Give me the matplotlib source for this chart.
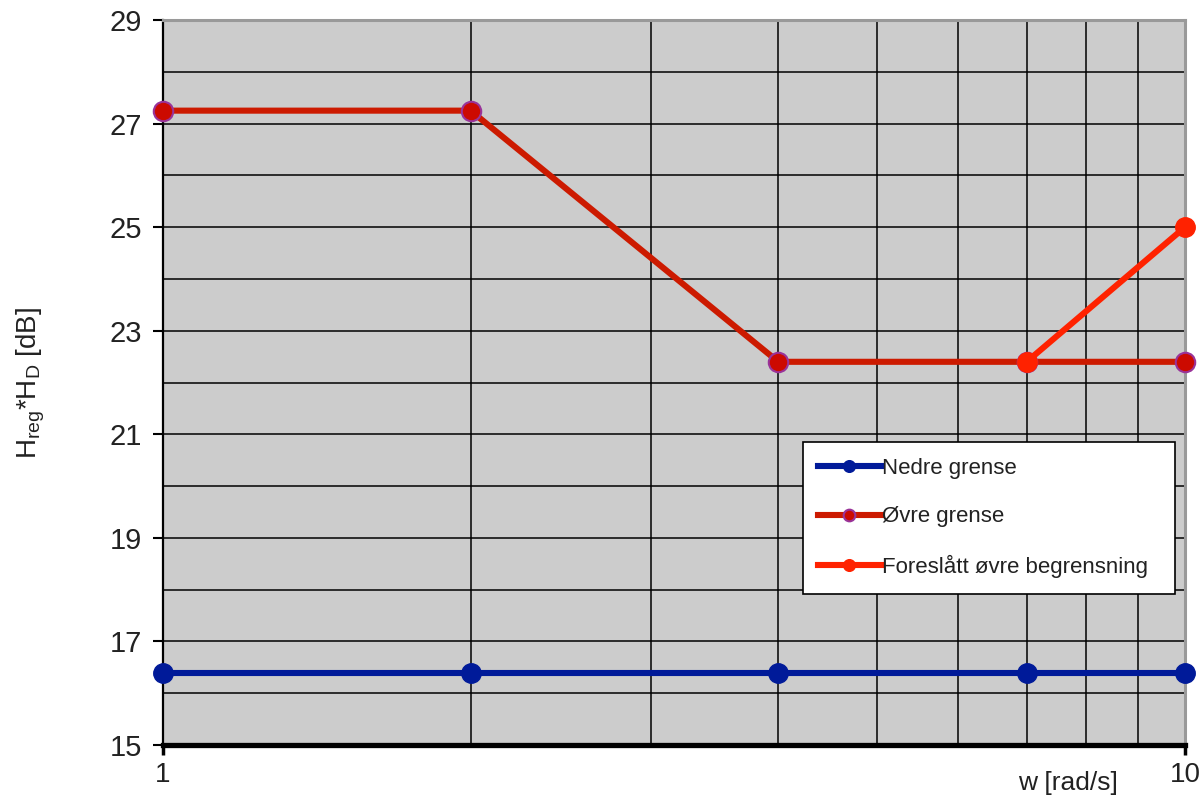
import matplotlib
matplotlib.use("Agg")
import matplotlib.pyplot as plt
from matplotlib.ticker import FixedLocator, NullFormatter, FixedFormatter

plt.rcParams['font.family'] = ['Liberation Sans', 'DejaVu Sans']
plt.rcParams['mathtext.fontset'] = 'custom'
plt.rcParams['mathtext.rm'] = 'Liberation Sans'
plt.rcParams['mathtext.it'] = 'Liberation Sans'

# Data
w_all = [1, 2, 4, 7, 10]
nedre = [16.4, 16.4, 16.4, 16.4, 16.4]
ovre = [27.25, 27.25, 22.4, 22.4, 22.4]
w_fores = [7, 10]
fores = [22.4, 25.0]
labels = ["Nedre grense", "Øvre grense", "Foreslått øvre begrensning"]
y_ticks = [15, 17, 19, 21, 23, 25, 27, 29]
x_ticks = [1, 10]
x_minor = [2, 3, 4, 5, 6, 7, 8, 9]

fig = plt.figure(figsize=(12.03, 8.01), dpi=100)
ax = fig.add_axes([0.1355, 0.0699, 0.8495, 0.9051])
ax.set_facecolor('#CCCCCC')

ax.plot(w_all, nedre, color='#001A99', lw=4.4, marker='o', ms=14,
        mfc='#001A99', mec='#001A99', label=labels[0], zorder=4, clip_on=False)
ax.plot(w_all, ovre, color='#CC1A00', lw=4.4, marker='o', ms=14,
        mfc='#CC0A00', mec='#993399', mew=1.5, label=labels[1], zorder=4, clip_on=False)
ax.plot(w_fores, fores, color='#FF2200', lw=4.4, marker='o', ms=14,
        mfc='#FF2200', mec='#FF2200', label=labels[2], zorder=5, clip_on=False)

ax.set_xscale('log')
ax.set_xlim(1, 10)
ax.set_ylim(15, 29)

ax.xaxis.set_major_locator(FixedLocator(x_ticks))
ax.xaxis.set_major_formatter(FixedFormatter([str(v) for v in x_ticks]))
ax.xaxis.set_minor_locator(FixedLocator(x_minor))
ax.xaxis.set_minor_formatter(NullFormatter())
ax.yaxis.set_major_locator(FixedLocator(y_ticks))
ax.yaxis.set_minor_locator(FixedLocator(list(range(16, 29, 2))))

ax.grid(True, which='both', color='black', lw=1.1, zorder=1)
ax.set_axisbelow(True)

ax.tick_params(axis='y', which='major', direction='out', length=7, width=1.5,
               labelsize=21, pad=8, colors='black', labelcolor='#222222')
ax.tick_params(axis='y', which='minor', length=0)
ax.tick_params(axis='x', which='major', direction='out', length=7, width=2.5,
               labelsize=20, pad=5, labelcolor='#222222')
ax.tick_params(axis='x', which='minor', length=0)

for s in ['top', 'right']:
    ax.spines[s].set_color('#999999')
    ax.spines[s].set_linewidth(2.2)
ax.spines['left'].set_color('black')
ax.spines['left'].set_linewidth(1.6)
ax.spines['bottom'].set_color('black')
ax.spines['bottom'].set_linewidth(3.8)
ax.spines['bottom'].set_zorder(6)

ax.set_ylabel(r'H$_{\mathrm{reg}}$*H$_{\mathrm{D}}$ [dB]', fontsize=20, color='#222222', labelpad=45)
fig.text(0.888, 0.022, 'w [rad/s]', fontsize=19, color='#222222', ha='center', va='center')

leg = ax.legend(loc='upper left', bbox_to_anchor=(0.626, 0.218, 0.364, 0.2), mode='expand',
                fontsize=16, frameon=True, fancybox=False, edgecolor='black',
                facecolor='white', framealpha=1, borderpad=0.7, labelspacing=1.25,
                handlelength=2.8, handletextpad=0.05, markerscale=0.6, borderaxespad=0)
leg.get_frame().set_linewidth(1.2)
for t in leg.get_texts():
    t.set_color('#222222')

fig.savefig('out.png', dpi=100)
